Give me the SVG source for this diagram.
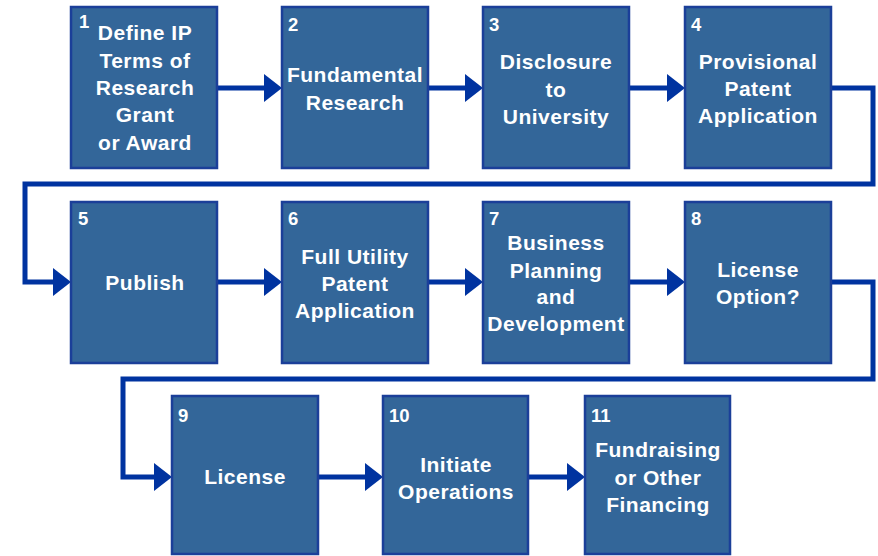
<svg xmlns="http://www.w3.org/2000/svg" width="878" height="556" viewBox="0 0 878 556">
<style>
.box{fill:#336699;stroke:#1b3f99;stroke-width:2.5}
.t{font-family:"Liberation Sans",Arial,sans-serif;font-weight:bold;font-size:21px;fill:#ffffff;text-anchor:middle;letter-spacing:0.5px}
.n{font-family:"Liberation Sans",Arial,sans-serif;font-weight:bold;font-size:18.5px;fill:#ffffff}
.c{fill:none;stroke:#0033a0;stroke-width:5;stroke-linejoin:miter;marker-end:url(#ah)}
</style>
<defs>
<marker id="ah" viewBox="0 0 18 28" markerWidth="18" markerHeight="28" markerUnits="userSpaceOnUse" refX="2" refY="14" orient="auto">
<path d="M0,0 L18,14 L0,28 z" fill="#0033a0"/>
</marker>
</defs>
<rect width="878" height="556" fill="#ffffff"/>
<g id="connectors">
<path class="c" d="M217,88 H266"/>
<path class="c" d="M428,88 H467"/>
<path class="c" d="M629,88 H669"/>
<path class="c" d="M831,88 H873 V184 H25 V282 H55"/>
<path class="c" d="M217,282 H266"/>
<path class="c" d="M428,282 H467"/>
<path class="c" d="M629,282 H669"/>
<path class="c" d="M831,282 H873 V379 H123 V477 H156"/>
<path class="c" d="M318,477 H367"/>
<path class="c" d="M528,477 H569"/>
</g>
<g id="node1">
<rect class="box" x="71" y="7" width="146" height="161"/>
<text class="n" x="79" y="28">1</text>
<text class="t" x="145" y="40">Define IP</text>
<text class="t" x="145" y="67.5">Terms of</text>
<text class="t" x="145" y="95">Research</text>
<text class="t" x="145" y="122">Grant</text>
<text class="t" x="145" y="150">or Award</text>
</g>
<g id="node2">
<rect class="box" x="282" y="7" width="146" height="161"/>
<text class="n" x="288" y="31">2</text>
<text class="t" x="355" y="82">Fundamental</text>
<text class="t" x="355" y="110">Research</text>
</g>
<g id="node3">
<rect class="box" x="483" y="7" width="146" height="161"/>
<text class="n" x="489" y="31">3</text>
<text class="t" x="556" y="69">Disclosure</text>
<text class="t" x="556" y="97">to</text>
<text class="t" x="556" y="124">University</text>
</g>
<g id="node4">
<rect class="box" x="685" y="7" width="146" height="161"/>
<text class="n" x="691" y="31">4</text>
<text class="t" x="758" y="69">Provisional</text>
<text class="t" x="758" y="96">Patent</text>
<text class="t" x="758" y="123">Application</text>
</g>
<g id="node5">
<rect class="box" x="71" y="202" width="146" height="161"/>
<text class="n" x="78" y="225">5</text>
<text class="t" x="145" y="290">Publish</text>
</g>
<g id="node6">
<rect class="box" x="282" y="202" width="146" height="161"/>
<text class="n" x="288" y="225">6</text>
<text class="t" x="355" y="264">Full Utility</text>
<text class="t" x="355" y="291">Patent</text>
<text class="t" x="355" y="318">Application</text>
</g>
<g id="node7">
<rect class="box" x="483" y="202" width="146" height="161"/>
<text class="n" x="489" y="225">7</text>
<text class="t" x="556" y="250">Business</text>
<text class="t" x="556" y="278">Planning</text>
<text class="t" x="556" y="304">and</text>
<text class="t" x="556" y="331">Development</text>
</g>
<g id="node8">
<rect class="box" x="685" y="202" width="146" height="161"/>
<text class="n" x="691" y="225">8</text>
<text class="t" x="758" y="277">License</text>
<text class="t" x="758" y="304">Option?</text>
</g>
<g id="node9">
<rect class="box" x="172" y="396" width="146" height="158"/>
<text class="n" x="178" y="422">9</text>
<text class="t" x="245" y="484">License</text>
</g>
<g id="node10">
<rect class="box" x="383" y="396" width="145" height="158"/>
<text class="n" x="389" y="422">10</text>
<text class="t" x="456" y="472">Initiate</text>
<text class="t" x="456" y="499">Operations</text>
</g>
<g id="node11">
<rect class="box" x="585" y="396" width="145" height="158"/>
<text class="n" x="591" y="422">11</text>
<text class="t" x="658" y="457">Fundraising</text>
<text class="t" x="658" y="485">or Other</text>
<text class="t" x="658" y="512">Financing</text>
</g>
</svg>
